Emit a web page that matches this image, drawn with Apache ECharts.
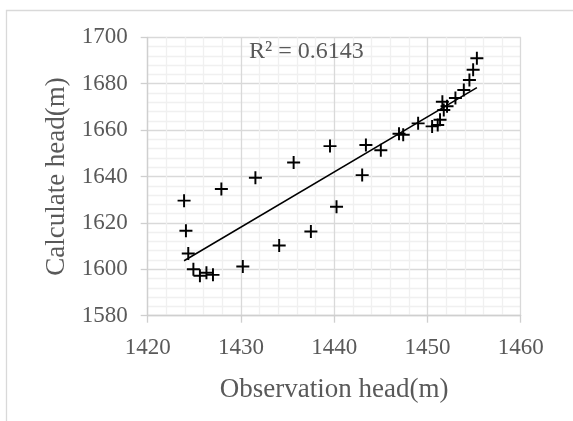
<!DOCTYPE html>
<html>
<head>
<meta charset="utf-8">
<script src="https://cdn.jsdelivr.net/npm/echarts@6/dist/echarts.min.js"></script>
<style>
html,body{margin:0;padding:0;background:#fff;}
#chart{width:573px;height:421px;}
</style>
</head>
<body>
<div id="chart"></div>
<script>
// Observation head (m)
var obsHead = [1423.9, 1424.1, 1424.35, 1424.9, 1425.6, 1426.3, 1427.0, 1427.9, 1430.2, 1431.55,
  1434.1, 1435.65, 1437.5, 1439.55, 1440.25, 1443.0, 1443.4, 1445.0, 1446.95, 1447.4,
  1449.0, 1450.5, 1451.1, 1451.35, 1451.6, 1451.75, 1452.1, 1453.0, 1453.9, 1454.5,
  1454.9, 1455.3];
// Calculate head (m)
var calcHead = [1629.6, 1616.6, 1606.8, 1600.0, 1597.2, 1598.5, 1597.6, 1634.6, 1601.2, 1639.5,
  1610.3, 1646.0, 1616.3, 1653.1, 1627.0, 1640.6, 1653.6, 1651.3, 1658.4, 1658.0,
  1662.9, 1661.6, 1662.2, 1664.5, 1672.2, 1668.7, 1670.3, 1673.8, 1677.3, 1681.6,
  1686.0, 1691.0];
var xTicks = [1420, 1430, 1440, 1450, 1460];
var yTicks = [1580, 1600, 1620, 1640, 1660, 1680, 1700];
var r2Label = 'R² = 0.6143';
var xName = 'Observation head(m)';
var yName = 'Calculate head(m)';

// linear least-squares trend line
var n = obsHead.length, sx = 0, sy = 0, sxx = 0, sxy = 0;
for (var i = 0; i < n; i++) { sx += obsHead[i]; sy += calcHead[i]; sxx += obsHead[i]*obsHead[i]; sxy += obsHead[i]*calcHead[i]; }
var slope = (n*sxy - sx*sy) / (n*sxx - sx*sx);
var icpt = (sy - slope*sx) / n;
var xmin = Math.min.apply(null, obsHead), xmax = Math.max.apply(null, obsHead);
var trend = [[xmin, icpt + slope*xmin], [xmax, icpt + slope*xmax]];

var pts = obsHead.map(function (x, i) { return [x, calcHead[i]]; });
var font = '"Liberation Serif", "Times New Roman", serif';
var plain = function (v) { return String(v); };
var chart = echarts.init(document.getElementById('chart'));
chart.setOption({
  backgroundColor: '#fff',
  animation: false,
  grid: { left: 147.7, right: 52.3, top: 37.3, bottom: 105.3 },
  graphic: [
    { type: 'rect', shape: { x: 6.5, y: 10.5, width: 700, height: 600 }, style: { fill: 'none', stroke: '#d9d9d9', lineWidth: 1.3 }, silent: true, z: -10 },
    { type: 'text', x: 249, y: 52, style: { text: r2Label, fill: '#595959', font: '24px ' + font, verticalAlign: 'middle', align: 'left' }, z: 10 }
  ],
  xAxis: {
    type: 'value', min: xTicks[0], max: xTicks[xTicks.length-1], interval: 10,
    name: xName, nameLocation: 'middle', nameGap: 61,
    nameTextStyle: { fontFamily: font, fontSize: 27, color: '#595959' },
    axisLine: { show: true, lineStyle: { color: '#cfcfcf', width: 1.3 } },
    axisTick: { show: true, inside: false, length: 7, lineStyle: { color: '#cfcfcf', width: 1.3 } },
    axisLabel: { fontFamily: font, fontSize: 23, color: '#595959', margin: 21, formatter: plain },
    splitLine: { show: true, lineStyle: { color: '#d9d9d9', width: 1.3 } },
    minorTick: { show: false, splitNumber: 5 },
    minorSplitLine: { show: true, lineStyle: { color: '#f0f0f0', width: 1.3 } }
  },
  yAxis: {
    type: 'value', min: yTicks[0], max: yTicks[yTicks.length-1], interval: 20,
    name: yName, nameLocation: 'middle', nameGap: 68,
    nameTextStyle: { fontFamily: font, fontSize: 27, color: '#595959' },
    axisLine: { show: true, lineStyle: { color: '#cfcfcf', width: 1.3 } },
    axisTick: { show: true, inside: false, length: 7, lineStyle: { color: '#cfcfcf', width: 1.3 } },
    axisLabel: { fontFamily: font, fontSize: 23, color: '#595959', margin: 20, formatter: plain },
    splitLine: { show: true, lineStyle: { color: '#d9d9d9', width: 1.3 } },
    minorTick: { show: false, splitNumber: 5 },
    minorSplitLine: { show: true, lineStyle: { color: '#f0f0f0', width: 1.3 } }
  },
  series: [
    { type: 'line', data: trend, showSymbol: false, symbol: 'none', lineStyle: { color: '#000', width: 1.5 }, z: 3, silent: true },
    { type: 'scatter', data: pts, symbol: 'path://M5.1,0H6.9V5.1H12V6.9H6.9V12H5.1V6.9H0V5.1H5.1Z', symbolSize: 13,
      itemStyle: { color: '#000', opacity: 1 }, z: 4 }
  ]
});
</script>
</body>
</html>
